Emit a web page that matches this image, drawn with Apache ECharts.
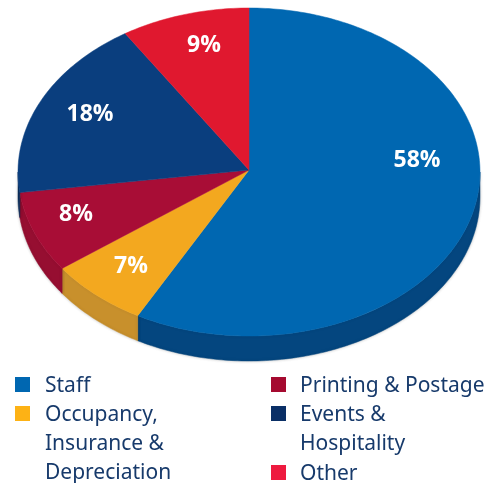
<!DOCTYPE html>
<html>
<head>
<meta charset="utf-8">
<style>html,body{margin:0;padding:0;background:#fff}#c{width:500px;height:483px}</style>
<script src="https://cdn.jsdelivr.net/npm/echarts@6/dist/echarts.min.js"></script>
</head>
<body>
<div id="c"></div>
<script>
const categories = ['Staff', 'Occupancy,\nInsurance &\nDepreciation', 'Printing & Postage', 'Events &\nHospitality', 'Other'];
const values = [58, 7, 8, 18, 9];
const topColors = ['#0067b1', '#f3a81f', '#a80d36', '#0a3e7e', '#e0182f'];
const wallColors = ['#04467f', '#c8902c', '#960e31', '#0a2f5c', '#b0102e'];
const legendColors = ['#0067b1', '#fdb215', '#a50a30', '#0a2f66', '#ee1a3f'];

const CX = 249, CY = 172, APEX_Y = 170, RX = 231, RY = 164, DEPTH = 25;
const total = values.reduce((a, b) => a + b, 0);
const labelSpots = [[417, 160], [131, 266], [76, 214], [90, 114], [204, 45]];
const legendSlots = [[15, 377], [15, 406], [271, 377], [271, 406], [271, 465]];

const chart = echarts.init(document.getElementById('c'), null, {renderer: 'canvas'});

function pt(frac, dy) {
  const t = frac * 2 * Math.PI;
  return [CX + RX * Math.sin(t), CY - RY * Math.cos(t) + (dy || 0)];
}
function arc(a, b, dy) {
  const pts = [], n = Math.max(2, Math.ceil((b - a) * 360));
  for (let i = 0; i <= n; i++) pts.push(pt(a + (b - a) * i / n, dy));
  return pts;
}

function renderItem(params, api) {
  const i = params.dataIndex;
  const v = api.value(0);
  let s = 0;
  for (let k = 0; k < i; k++) s += values[k];
  const a = s / total, b = (s + v) / total;
  const children = [];
  const wa = Math.max(a, 0.25), wb = Math.min(b, 0.75);
  if (wb > wa) {
    children.push({
      type: 'polygon',
      shape: {points: arc(wa, wb, 0).concat(arc(wa, wb, DEPTH).reverse())},
      style: {fill: wallColors[i], stroke: wallColors[i], lineWidth: 0.5, shadowBlur: 3, shadowColor: 'rgba(0,0,0,0.25)'}
    });
  }
  children.push({
    type: 'polygon',
    shape: {points: [[CX, APEX_Y]].concat(arc(a, b, 0))},
    style: {fill: topColors[i], stroke: topColors[i], lineWidth: 0.5}
  });
  children.push({
    type: 'text',
    style: {
      x: labelSpots[i][0], y: labelSpots[i][1],
      text: v + '%', fill: '#fff',
      font: 'bold 23px "Open Sans", "Noto Sans", sans-serif',
      align: 'center', verticalAlign: 'middle'
    }
  });
  return {type: 'group', children};
}

const legendGraphics = [];
categories.forEach((name, i) => {
  const [x, y] = legendSlots[i];
  legendGraphics.push({
    type: 'rect', left: x, top: y, shape: {width: 15, height: 15},
    style: {fill: legendColors[i]}
  });
  legendGraphics.push({
    type: 'text', left: x + 30 - (i >= 2 ? 1 : 0), top: y - 5,
    style: {
      text: name, fill: '#173a6b',
      font: '21px "Noto Sans", sans-serif', lineHeight: 29
    }
  });
});

chart.setOption({
  animation: false,
  backgroundColor: '#fff',
  tooltip: {show: false},
  series: [{
    type: 'custom',
    coordinateSystem: 'none',
    renderItem,
    silent: true,
    data: values.map((v, i) => ({name: categories[i], value: [v]}))
  }],
  graphic: legendGraphics
});
</script>
</body>
</html>
